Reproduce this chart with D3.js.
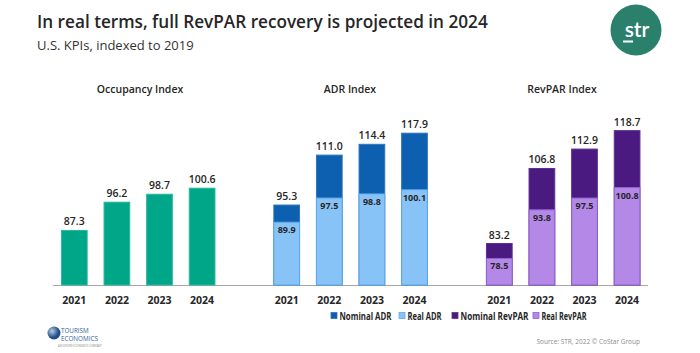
<!DOCTYPE html>
<html><head><meta charset="utf-8">
<script src="https://cdn.jsdelivr.net/npm/d3@7"></script>
<style>
html,body{margin:0;padding:0;background:#fff;}
svg{display:block;font-family:"Open Sans",sans-serif;}
</style></head>
<body><svg id="chart" width="700" height="353"></svg>
<script>
const years = ["2021","2022","2023","2024"];
const occupancy = [87.3, 96.2, 98.7, 100.6];
const nominalADR = [95.3, 111.0, 114.4, 117.9];
const realADR = [89.9, 97.5, 98.8, 100.1];
const nominalRevPAR = [83.2, 106.8, 112.9, 118.7];
const realRevPAR = [78.5, 93.8, 97.5, 100.8];
const panelTitles = ["Occupancy Index", "ADR Index", "RevPAR Index"];
const legendLabels = ["Nominal ADR", "Real ADR", "Nominal RevPAR", "Real RevPAR"];

const svg = d3.select("#chart");
const C = {
  occ: "#00A688", occS: "#2DB89C",
  nADR: "#0D5FB0", nADRS: "#2E74BC",
  rADR: "#88C3F7", rADRS: "#5FA9EC",
  nRev: "#4B1A80", nRevS: "#5E2E93",
  rRev: "#B388E6", rRevS: "#9262D2",
  text: "#262626"
};

function fit(sel, w) {
  const node = sel.node();
  const fs = parseFloat(sel.attr("font-size"));
  const len = node.getComputedTextLength();
  sel.attr("font-size", (fs * w / len).toFixed(2));
  return sel;
}
function squeeze(sel, w) {
  const len = sel.node().getComputedTextLength();
  if (len > w) sel.attr("textLength", w).attr("lengthAdjust", "spacingAndGlyphs");
  return sel;
}

// Title + subtitle
fit(svg.append("text").attr("x", 37).attr("y", 28).attr("font-size", 16).attr("font-weight", 600)
  .attr("fill", C.text).text("In real terms, full RevPAR recovery is projected in 2024"), 451);
squeeze(svg.append("text").attr("x", 37).attr("y", 50).attr("font-size", 13)
  .attr("fill", "#333").text("U.S. KPIs, indexed to 2019"), 188);

// str logo
const lg = svg.append("g");
lg.append("circle").attr("cx", 636).attr("cy", 30).attr("r", 25.5).attr("fill", "#2B806C");
lg.append("text").attr("x", 637).attr("y", 36.5).attr("text-anchor", "middle").attr("font-size", 21)
  .attr("font-weight", 600).attr("fill", "#fff").attr("font-family", "Lato, sans-serif").text("str");
lg.append("rect").attr("x", 623).attr("y", 40.5).attr("width", 10).attr("height", 2).attr("fill", "#fff");

// Scales
const y = d3.scaleLinear().domain([70, 130]).range([285, 94.2]);
const step = 42.6;
const panelStarts = [53, 265.4, 478];
const xs = panelStarts.map(s => d3.scaleBand().domain(years).range([s, s + 4 * step]).paddingInner(0.373).paddingOuter(0.1865));

// baseline
svg.append("line").attr("x1", 53).attr("x2", 648).attr("y1", y(70) + 0.5).attr("y2", y(70) + 0.5)
  .attr("stroke", "#A6A6A6").attr("stroke-width", 1);

function drawBars(x, vals, fill, stroke) {
  svg.append("g").selectAll("rect").data(vals).join("rect")
    .attr("x", (d, i) => x(years[i]) + 0.5)
    .attr("width", x.bandwidth() - 1)
    .attr("y", d => y(d) + 0.5)
    .attr("height", d => y(70) - y(d) - 0.5)
    .attr("fill", fill).attr("stroke", stroke).attr("stroke-width", 1);
}
function topLabels(x, vals) {
  svg.append("g").selectAll("text").data(vals).join("text")
    .attr("x", (d, i) => x(years[i]) + x.bandwidth() / 2)
    .attr("y", d => y(d) - 4.5)
    .attr("text-anchor", "middle").attr("font-size", 10.5).attr("font-weight", 600)
    .attr("fill", C.text).text(d => d.toFixed(1));
}
function innerLabels(x, vals) {
  svg.append("g").selectAll("text").data(vals).join("text")
    .attr("x", (d, i) => x(years[i]) + x.bandwidth() / 2)
    .attr("y", d => y(d) + 11.5)
    .attr("text-anchor", "middle").attr("font-size", 9).attr("font-weight", 700)
    .attr("fill", C.text).text(d => d.toFixed(1));
}

drawBars(xs[0], occupancy, C.occ, C.occS);
topLabels(xs[0], occupancy);
drawBars(xs[1], nominalADR, C.nADR, C.nADRS);
drawBars(xs[1], realADR, C.rADR, C.rADRS);
topLabels(xs[1], nominalADR);
innerLabels(xs[1], realADR);
drawBars(xs[2], nominalRevPAR, C.nRev, C.nRevS);
drawBars(xs[2], realRevPAR, C.rRev, C.rRevS);
topLabels(xs[2], nominalRevPAR);
innerLabels(xs[2], realRevPAR);

xs.forEach(x => {
  const g = svg.append("g").attr("transform", `translate(0,${y(70)})`)
    .call(d3.axisBottom(x).tickSize(0).tickPadding(12));
  g.select(".domain").remove();
  g.selectAll("text").attr("font-size", 10.5).attr("font-weight", 700).attr("fill", C.text)
    .attr("font-family", "'Open Sans',sans-serif");
});

const titleX = [140, 350, 562];
panelTitles.forEach((t, i) => {
  svg.append("text").attr("x", titleX[i]).attr("y", 93).attr("text-anchor", "middle")
    .attr("font-size", 10.5).attr("font-weight", 600).attr("fill", C.text).text(t);
});

// legend
const legendX = [331, 399, 452, 533];
const legendW = [52, 34, 68, 45];
const legendFill = [C.nADR, C.rADR, C.nRev, C.rRev];
const legendStroke = [C.nADRS, C.rADRS, C.nRevS, C.rRevS];
legendLabels.forEach((t, i) => {
  svg.append("rect").attr("x", legendX[i]).attr("y", 312.5).attr("width", 6).attr("height", 6)
    .attr("fill", legendFill[i]).attr("stroke", legendStroke[i]).attr("stroke-width", 0.8);
  squeeze(svg.append("text").attr("x", legendX[i] + 8.5).attr("y", 319.5).attr("font-size", 10).attr("font-weight", 700)
    .attr("fill", C.text).text(t), legendW[i]);
});

// Tourism Economics logo
const te = svg.append("g");
const grad = svg.append("defs").append("radialGradient").attr("id", "glb").attr("cx", "35%").attr("cy", "35%");
grad.append("stop").attr("offset", "0%").attr("stop-color", "#B9CCE3");
grad.append("stop").attr("offset", "100%").attr("stop-color", "#1F4E8C");
te.append("circle").attr("cx", 54).attr("cy", 333).attr("r", 6.5).attr("fill", "url(#glb)");
te.append("text").attr("x", 61).attr("y", 333).attr("font-size", 6.3).attr("fill", "#2F5F9E").text("TOURISM");
te.append("text").attr("x", 61).attr("y", 340.5).attr("font-size", 6.3).attr("fill", "#2F5F9E").text("ECONOMICS");
te.append("text").attr("x", 58).attr("y", 347).attr("font-size", 2.6).attr("fill", "#888").text("AN OXFORD ECONOMICS COMPANY");

svg.append("text").attr("x", 640).attr("y", 344).attr("text-anchor", "end").attr("font-size", 6.5)
  .attr("fill", "#8C8C8C").text("Source: STR, 2022 © CoStar Group");
</script>
</body></html>
